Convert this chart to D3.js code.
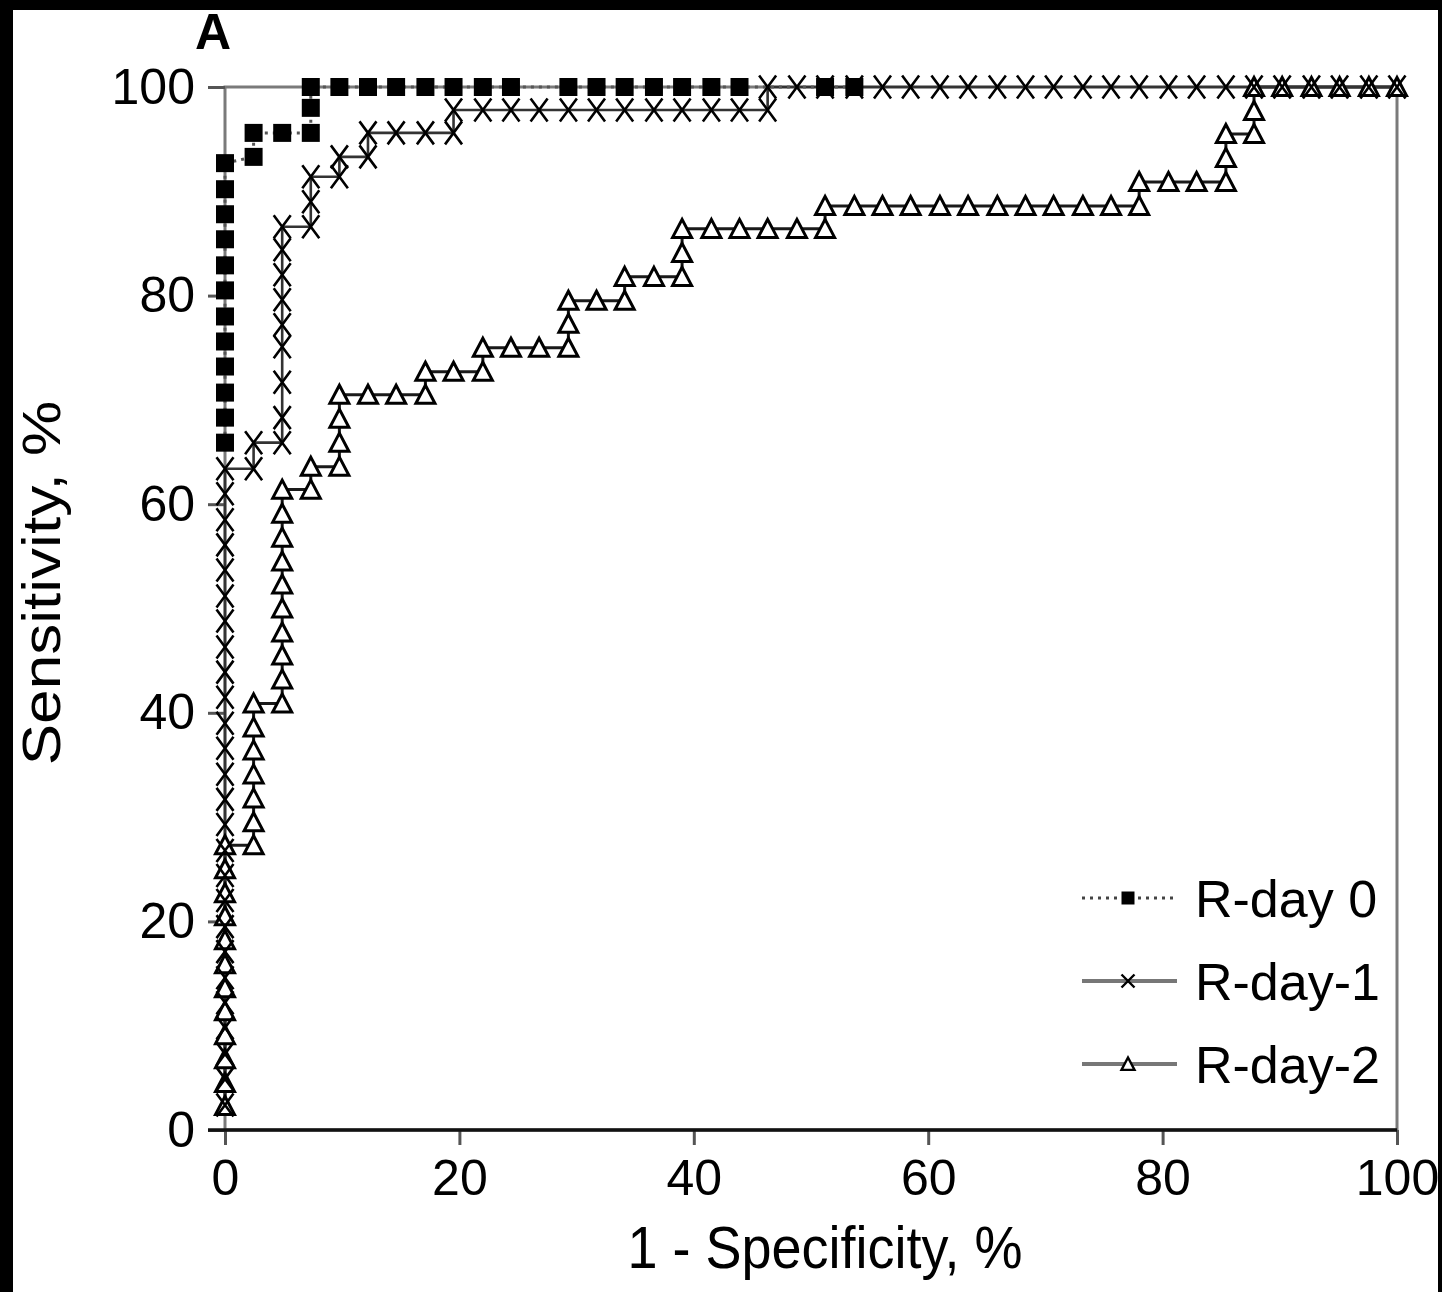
<!DOCTYPE html>
<html>
<head>
<meta charset="utf-8">
<script src="https://cdn.jsdelivr.net/npm/d3@7"></script>
<style>
  html, body { margin: 0; padding: 0; background: #fff; }
  svg { display: block; }
  text { font-family: "Liberation Sans", Arial, Helvetica, sans-serif; fill: #000; }
</style>
</head>
<body>
<svg id="chart" width="1442" height="1292"></svg>
<script>
// ROC curves: sensitivity vs (1 - specificity), both in %
const xTicks = [0, 20, 40, 60, 80, 100];
const yTicks = [0, 20, 40, 60, 80, 100];

const seriesNames = ["R-day 0", "R-day-1", "R-day-2"];

// R-day 0 (filled squares, dotted line)
const rday0Fpr = [0, 0, 0, 0, 0, 0, 0, 0, 0, 0, 0, 0,
  2.44, 2.44, 4.88, 7.32, 7.32, 7.32, 9.76, 12.2, 14.6, 17.1, 19.5, 22.0, 24.4,
  29.3, 31.7, 34.1, 36.6, 39.0, 41.5, 43.9, 51.2, 53.7];
const rday0Sens = [65.9, 68.3, 70.7, 73.2, 75.6, 78.0, 80.5, 82.9, 85.4, 87.8, 90.2, 92.7,
  93.3, 95.6, 95.6, 95.6, 98.0, 100, 100, 100, 100, 100, 100, 100, 100,
  100, 100, 100, 100, 100, 100, 100, 100, 100];

// R-day-1 (crosses, solid line)
const rday1Fpr = [0, 0, 0, 0, 0, 0, 0, 0, 0, 0, 0, 0, 0, 0, 0, 0, 0, 0, 0, 0, 0, 0, 0, 0, 0, 0,
  2.44, 2.44, 4.88, 4.88, 4.88, 4.88, 4.88, 4.88, 4.88, 4.88, 4.88,
  7.32, 7.32, 7.32, 9.76, 9.76, 12.2, 12.2, 14.6, 17.1, 19.5, 19.5,
  22.0, 24.4, 26.8, 29.3, 31.7, 34.1, 36.6, 39.0, 41.5, 43.9, 46.3,
  46.3, 48.8, 51.2, 53.7, 56.1, 58.5, 61.0, 63.4, 65.9, 68.3, 70.7, 73.2,
  75.6, 78.0, 80.5, 82.9, 85.4, 87.8, 90.2, 92.7, 95.1, 97.6, 100];
const rday1Sens = [2.4, 4.9, 7.3, 9.8, 12.2, 14.6, 17.1, 19.5, 22.0, 24.4, 26.8, 29.3, 31.7,
  34.1, 36.6, 39.0, 41.5, 43.9, 46.3, 48.8, 51.2, 53.7, 56.1, 58.5, 61.0, 63.4,
  63.4, 65.9, 65.9, 68.3, 71.7, 75.1, 77.2, 79.6, 82.0, 84.4, 86.6,
  86.6, 89.0, 91.4, 91.4, 93.3, 93.3, 95.6, 95.6, 95.6, 95.6, 97.8,
  97.8, 97.8, 97.8, 97.8, 97.8, 97.8, 97.8, 97.8, 97.8, 97.8, 97.8,
  100, 100, 100, 100, 100, 100, 100, 100, 100, 100, 100, 100,
  100, 100, 100, 100, 100, 100, 100, 100, 100, 100, 100];

// R-day-2 (open triangles, solid line)
const rday2Fpr = [0, 0, 0, 0, 0, 0, 0, 0, 0, 0, 0, 0,
  2.44, 2.44, 2.44, 2.44, 2.44, 2.44, 2.44,
  4.88, 4.88, 4.88, 4.88, 4.88, 4.88, 4.88, 4.88, 4.88, 4.88,
  7.32, 7.32, 9.76, 9.76, 9.76, 9.76,
  12.2, 14.6, 17.1, 17.1, 19.5, 22.0, 22.0,
  24.4, 26.8, 29.3, 29.3, 29.3, 31.7, 34.1, 34.1,
  36.6, 39.0, 39.0, 39.0, 41.5, 43.9, 46.3, 48.8, 51.2, 51.2,
  53.7, 56.1, 58.5, 61.0, 63.4, 65.9, 68.3, 70.7, 73.2, 75.6, 78.0, 78.0,
  80.5, 82.9, 85.4, 85.4, 85.4, 87.8, 87.8, 87.8,
  90.2, 92.7, 95.1, 97.6, 100];
const rday2Sens = [2.3, 4.5, 6.8, 9.1, 11.4, 13.6, 15.9, 18.2, 20.5, 22.7, 25.0, 27.3,
  27.3, 29.5, 31.8, 34.1, 36.4, 38.6, 40.9,
  40.9, 43.2, 45.5, 47.7, 50.0, 52.3, 54.5, 56.8, 59.1, 61.4,
  61.4, 63.6, 63.6, 65.9, 68.2, 70.5,
  70.5, 70.5, 70.5, 72.7, 72.7, 72.7, 75.0,
  75.0, 75.0, 75.0, 77.3, 79.5, 79.5, 79.5, 81.8,
  81.8, 81.8, 84.1, 86.4, 86.4, 86.4, 86.4, 86.4, 86.4, 88.6,
  88.6, 88.6, 88.6, 88.6, 88.6, 88.6, 88.6, 88.6, 88.6, 88.6, 88.6, 90.9,
  90.9, 90.9, 90.9, 93.2, 95.5, 95.5, 97.7, 100,
  100, 100, 100, 100, 100];

const svg = d3.select("#chart");
const W = 1442, H = 1292;

const x = d3.scaleLinear().domain([0, 100]).range([225, 1397]);
const y = d3.scaleLinear().domain([0, 100]).range([1130, 87]);

svg.append("rect").attr("width", W).attr("height", H).attr("fill", "#fff");

// plot-area border
svg.append("rect")
  .attr("x", x(0)).attr("y", y(100))
  .attr("width", x(100) - x(0)).attr("height", y(0) - y(100))
  .attr("fill", "none").attr("stroke", "#7a7a7a").attr("stroke-width", 3);

// axes
const yAxis = svg.append("g")
  .attr("transform", `translate(${x(0)},0)`)
  .call(d3.axisLeft(y).tickValues(yTicks).tickSize(17).tickPadding(13).tickFormat(d3.format("d")));
const xAxis = svg.append("g")
  .attr("transform", `translate(0,${y(0)})`)
  .call(d3.axisBottom(x).tickValues(xTicks).tickSize(15).tickPadding(14).tickFormat(d3.format("d")));

[yAxis, xAxis].forEach(g => {
  g.select(".domain").remove();
  g.selectAll(".tick line").attr("stroke", "#555").attr("stroke-width", 3);
  g.selectAll(".tick text")
    .attr("font-size", 50)
    .attr("font-family", "Liberation Sans, Arial, sans-serif")
    .attr("fill", "#000");
});

svg.append("line")
  .attr("x1", x(0) - 17).attr("x2", x(100))
  .attr("y1", y(0)).attr("y2", y(0))
  .attr("stroke", "#111").attr("stroke-width", 3.5);

// series
const toPts = (xs, ys) => xs.map((v, i) => [v, ys[i]]);
const series = [
  { name: seriesNames[2], pts: toPts(rday2Fpr, rday2Sens), marker: "tri", stroke: "#1a1a1a", width: 3, dash: null },
  { name: seriesNames[1], pts: toPts(rday1Fpr, rday1Sens), marker: "cross", stroke: "#333", width: 2.6, dash: null },
  { name: seriesNames[0], pts: toPts(rday0Fpr, rday0Sens), marker: "sq", stroke: "#555", width: 3, dash: "3,5" }
];

const line = d3.line().x(d => x(d[0])).y(d => y(d[1]));

const markerPath = {
  tri: (w, h) => `M0,${-h}L${w},${h * 0.9}L${-w},${h * 0.9}Z`,
  cross: (w, h) => `M${-w},${-h}L${w},${h}M${-w},${h}L${w},${-h}`,
  sq: (w, h) => `M${-w},${-h}H${w}V${h}H${-w}Z`
};
function drawMarker(g, type, w, h, sw) {
  const p = g.append("path").attr("d", markerPath[type](w, h));
  if (type === "tri") p.attr("fill", "#fff").attr("stroke", "#000").attr("stroke-width", sw);
  else if (type === "cross") p.attr("fill", "none").attr("stroke", "#000").attr("stroke-width", sw);
  else p.attr("fill", "#000");
  return p;
}
const markerSize = { sq: [9, 9], cross: [8.5, 11.5], tri: [9.5, 9.5] };
const markerStroke = { sq: 0, cross: 2.6, tri: 3 };

series.forEach(s => {
  svg.append("path")
    .attr("d", line(s.pts))
    .attr("fill", "none")
    .attr("stroke", s.stroke)
    .attr("stroke-width", s.width)
    .attr("stroke-dasharray", s.dash);
});
series.forEach(s => {
  const [w, h] = markerSize[s.marker];
  svg.append("g").selectAll("g")
    .data(s.pts)
    .join("g")
    .attr("transform", d => `translate(${x(d[0])},${y(d[1])})`)
    .each(function () { drawMarker(d3.select(this), s.marker, w, h, markerStroke[s.marker]); });
});

// legend
const legendItems = [
  { name: seriesNames[0], marker: "sq", stroke: "#444", width: 3, dash: "3,5" },
  { name: seriesNames[1], marker: "cross", stroke: "#777", width: 4, dash: null },
  { name: seriesNames[2], marker: "tri", stroke: "#777", width: 4, dash: null }
];
const legend = svg.append("g");
legendItems.forEach((it, i) => {
  const gy = 898 + i * 83;
  const g = legend.append("g").attr("transform", `translate(0,${gy})`);
  g.append("line").attr("x1", 1082).attr("x2", 1177).attr("y1", 0).attr("y2", 0)
    .attr("stroke", it.stroke).attr("stroke-width", it.width).attr("stroke-dasharray", it.dash);
  const mg = g.append("g").attr("transform", "translate(1128,0)");
  drawMarker(mg, it.marker, 6.5, 6.5, 2.4);
  g.append("text").attr("x", 1195).attr("y", 0).attr("dy", "0.36em")
    .attr("font-size", 52).text(it.name);
});

// axis titles
svg.append("text")
  .attr("transform", `translate(${(x(0) + x(100)) / 2 + 14},1268) scale(1,1.1)`)
  .attr("text-anchor", "middle").attr("font-size", 54)
  .text("1 - Specificity, %");
svg.append("text")
  .attr("transform", "translate(60,583) scale(1,1.15) rotate(-90)")
  .attr("text-anchor", "middle").attr("font-size", 54)
  .text("Sensitivity, %");

// panel letter
svg.append("text")
  .attr("x", 195).attr("y", 49)
  .attr("font-size", 50).attr("font-weight", "bold")
  .text("A");

// dark frame edges
svg.append("rect").attr("x", 0).attr("y", 0).attr("width", W).attr("height", 10).attr("fill", "#000");
svg.append("rect").attr("x", 0).attr("y", 0).attr("width", 13).attr("height", H).attr("fill", "#000");
svg.append("rect").attr("x", 1438).attr("y", 0).attr("width", 4).attr("height", H).attr("fill", "#000");
</script>
</body>
</html>
